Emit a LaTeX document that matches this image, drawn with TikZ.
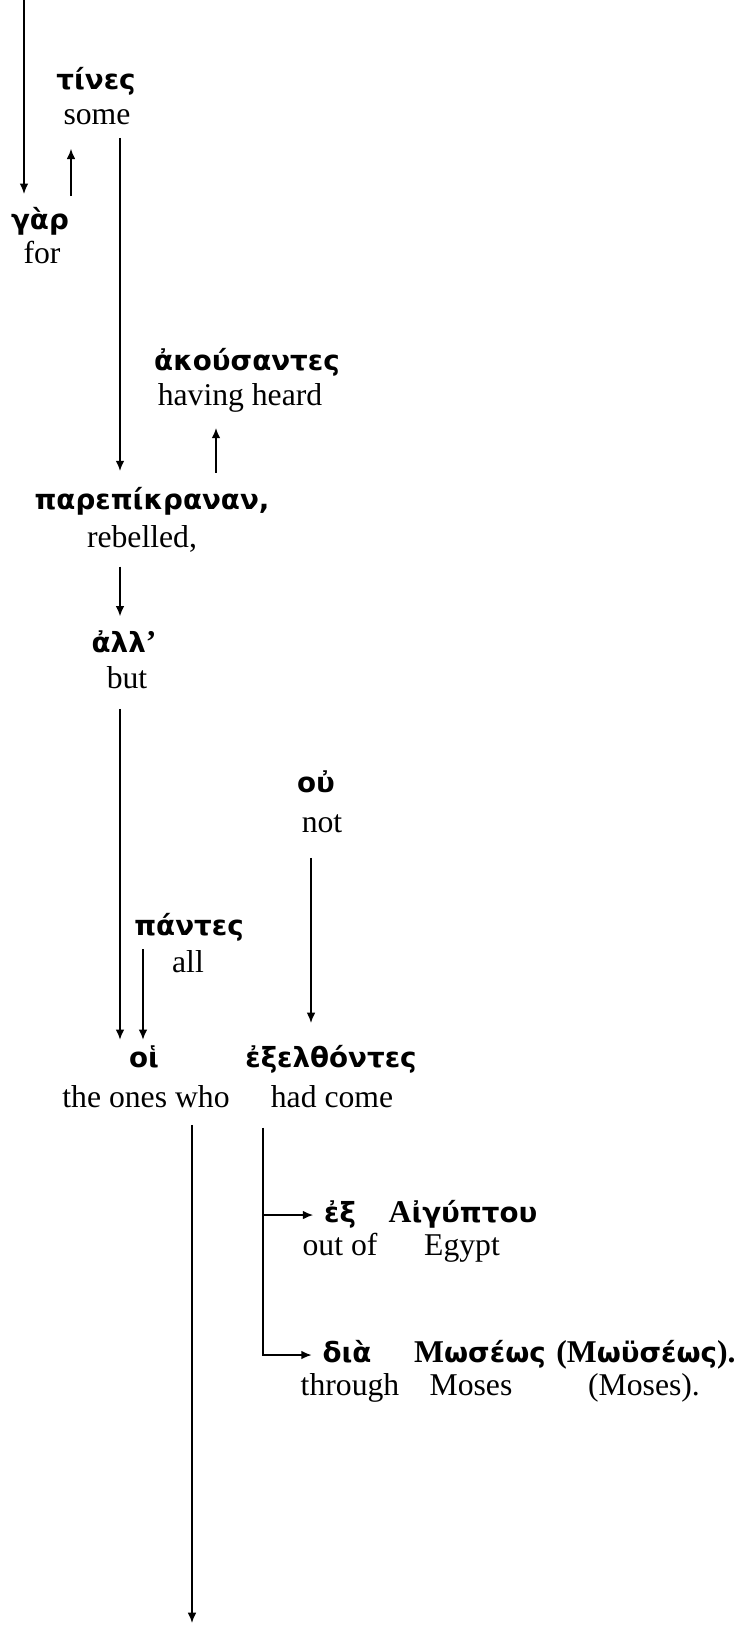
\documentclass[tikz,border=0pt]{standalone}
\usepackage{fontspec}
\setmainfont{Liberation Serif}
\newfontfamily\grkfont{DejaVu Sans}
\newfontfamily\capfont{Liberation Serif}
\usetikzlibrary{arrows.meta}
\newcommand{\cp}[1]{{\capfont\bfseries\fontsize{12}{14}\selectfont #1}}

\begin{document}
\begin{tikzpicture}[x=0.3788pt, y=-0.3788pt, line width=0.65pt, >={Latex[length=3.9pt,width=3.3pt]},
    grk/.style={font=\grkfont\bfseries\fontsize{10.5}{12}\selectfont, inner sep=0pt, text height=8pt, text depth=2pt},
    gls/.style={font=\fontsize{12}{14}\selectfont, inner sep=0pt, text height=8pt, text depth=2.6pt}]
    \useasboundingbox (0,0) rectangle (743,1625);

    % Greek words and glosses
    \node[grk] (tines) at (96,82) {τίνες};
    \node[gls] (some) at (97,117) {some};
    \node[grk] (gar) at (40,222) {γὰρ};
    \node[gls] (for) at (42,256) {for};
    \node[grk] (akous) at (247,363) {ἀκούσαντες};
    \node[gls] (heard) at (240,398) {having heard};
    \node[grk] (parep) at (152,502) {παρεπίκραναν,};
    \node[gls] (rebel) at (142,540) {rebelled,};
    \node[grk] (alla) at (124,645) {ἀλλ\cp{’}};
    \node[gls] (but) at (127,681) {but};
    \node[grk] (ou) at (316,785) {οὐ};
    \node[gls] (not) at (322,825) {not};
    \node[grk] (pantes) at (189,928) {πάντες};
    \node[gls] (every) at (188,965) {all};
    \node[grk] (hoi) at (144,1060) {οἱ};
    \node[gls] (ones) at (146,1100) {the ones who};
    \node[grk] (exel) at (331,1060) {ἐξελθόντες};
    \node[gls] (come) at (332,1100) {had come};
    \node[grk] (ex) at (340,1215) {ἐξ};
    \node[gls] (outof) at (340,1248) {out of};
    \node[grk] (aig) at (463,1215) {\cp{Α}ἰγύπτου};
    \node[gls] (egypt) at (462,1248) {Egypt};
    \node[grk] (dia) at (347,1355) {διὰ};
    \node[gls] (through) at (350,1388) {through};
    \node[grk] (mos) at (480,1355) {\cp{Μ}ωσέως};
    \node[gls] (moses) at (471,1388) {Moses};
    \node[grk] (mous) at (646,1355) {\cp{(Μ}ωϋσέως\cp{).}};
    \node[gls] (mosesb) at (644,1388) {(Moses).};

    % Columns of the arrows
    \coordinate (top) at (24,0);
    \coordinate (cB) at (71,0);
    \coordinate (cC) at (120,0);
    \coordinate (cD) at (216,0);
    \coordinate (cE) at (311,0);
    \coordinate (cF) at (143,0);
    \coordinate (bottom) at (192,1623);
    \coordinate (cH) at (263,0);

    % Arrows
    \draw[->, shorten >=5.3pt] (top) -- (gar.north -| top);
    \draw[->, shorten <=4.5pt, shorten >=6.4pt] (gar.north -| cB) -- (some.south -| cB);
    \draw[->, shorten <=2.3pt, shorten >=6.4pt] (some.south -| cC) -- (parep.north -| cC);
    \draw[->, shorten <=5.7pt, shorten >=5.7pt] (parep.north -| cD) -- (heard.south -| cD);
    \draw[->, shorten <=4.5pt, shorten >=5.5pt] (rebel.south -| cC) -- (alla.north -| cC);
    \draw[->, shorten <=4.9pt, shorten >=2.3pt] (but.south -| cC) -- (hoi.north -| cC);
    \draw[->, shorten <=6.8pt, shorten >=8.7pt] (not.south -| cE) -- (exel.north -| cE);
    \draw[->, shorten <=2.7pt, shorten >=2.3pt] (pantes.south -| cF) -- (hoi.north -| cF);
    \draw[->, shorten <=3.8pt] (ones.south -| bottom) -- (bottom);

    % Bracket to the two phrases
    \draw[->, shorten <=4.9pt, shorten >=3.8pt] (come.south -| cH) |- (ex.west);
    \draw[->, shorten <=4.9pt, shorten >=3.8pt] (come.south -| cH) |- (dia.west);

\end{tikzpicture}
\end{document}
